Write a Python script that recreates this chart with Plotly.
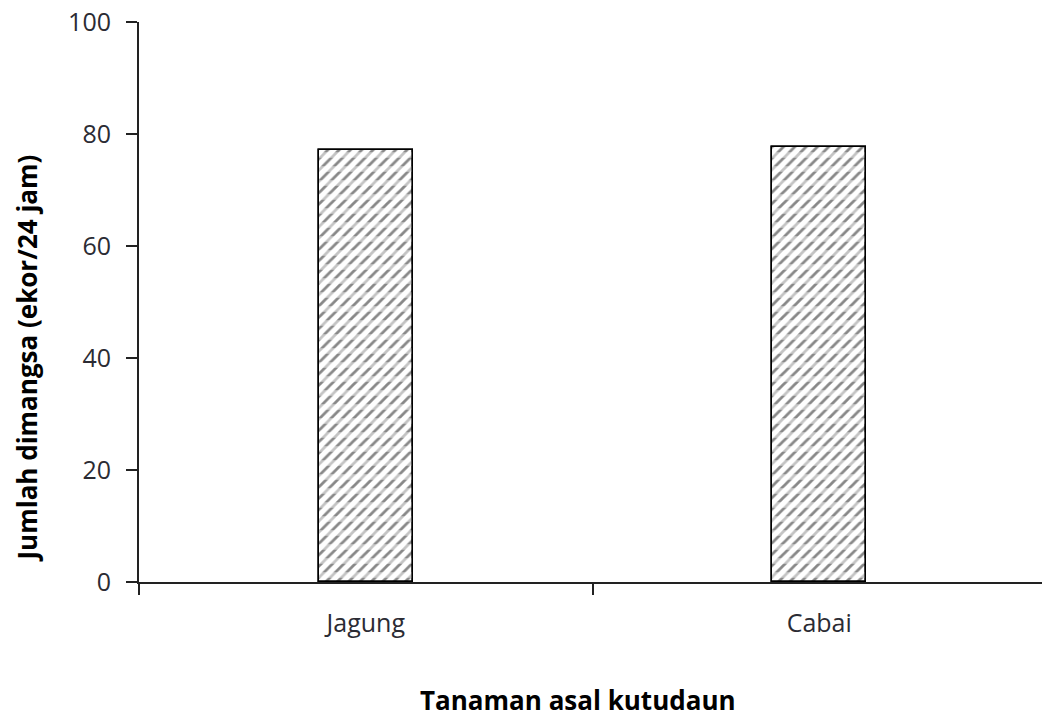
import plotly.graph_objects as go

# data
categories = ["Jagung", "Cabai"]
values = [77.2, 77.6]
y_ticks = [0, 20, 40, 60, 80, 100]

fig = go.Figure()

# hatched bars: diagonal lines, broken into rows by a white horizontal pattern on top
fig.add_trace(go.Bar(
    x=categories,
    y=values,
    width=0.207,
    marker=dict(
        color="white",
        line=dict(color="black", width=1.5),
        pattern=dict(shape="/", fgcolor="#111111", bgcolor="white", size=8, solidity=0.35),
    ),
    showlegend=False,
))
fig.add_trace(go.Bar(
    x=categories,
    y=values,
    width=0.207,
    marker=dict(
        color="rgba(0,0,0,0)",
        line=dict(color="black", width=1.5),
        pattern=dict(shape="-", fgcolor="white", bgcolor="rgba(0,0,0,0)", size=14, solidity=0.4),
    ),
    showlegend=False,
))

fig.update_layout(
    width=1046,
    height=720,
    margin=dict(l=139, r=0, t=22, b=138),
    paper_bgcolor="white",
    plot_bgcolor="white",
    font=dict(family="Open Sans, Lato, sans-serif", size=24, color="#2b2b33"),
    barmode="overlay",
    bargap=0,
)

fig.update_xaxes(
    type="category",
    range=[-0.5, 1.5],
    showline=True,
    linecolor="#222222",
    linewidth=2,
    ticks="outside",
    tickson="boundaries",
    ticklen=11,
    tickwidth=2,
    tickcolor="#222222",
    showgrid=False,
    zeroline=False,
    tickfont=dict(size=25, color="#2b2b33"),
    ticklabelstandoff=18,
)

fig.update_yaxes(
    range=[0, 100],
    tickvals=y_ticks,
    showline=True,
    linecolor="#222222",
    linewidth=2,
    ticks="outside",
    ticklen=11,
    tickwidth=2,
    tickcolor="#222222",
    showgrid=False,
    zeroline=False,
    tickfont=dict(size=25, color="#2b2b33"),
    ticklabelstandoff=10,
)

fig.add_annotation(
    text="<b>Jumlah dimangsa (ekor/24 jam)</b>",
    xref="paper", yref="paper",
    x=-0.124, y=0.40,
    textangle=-90,
    showarrow=False,
    font=dict(size=26, color="black"),
    xanchor="center", yanchor="middle",
)

fig.add_annotation(
    text="<b>Tanaman asal kutudaun</b>",
    xref="paper", yref="paper",
    x=0.484, y=-0.21,
    showarrow=False,
    font=dict(size=26, color="black"),
    xanchor="center", yanchor="middle",
)

# page has an 8px body margin by default; remove it so the figure fills the window
fig.write_html(
    "out.html",
    config={"displayModeBar": False},
    post_script="document.body.style.margin='0';document.body.style.overflow='hidden';",
)
